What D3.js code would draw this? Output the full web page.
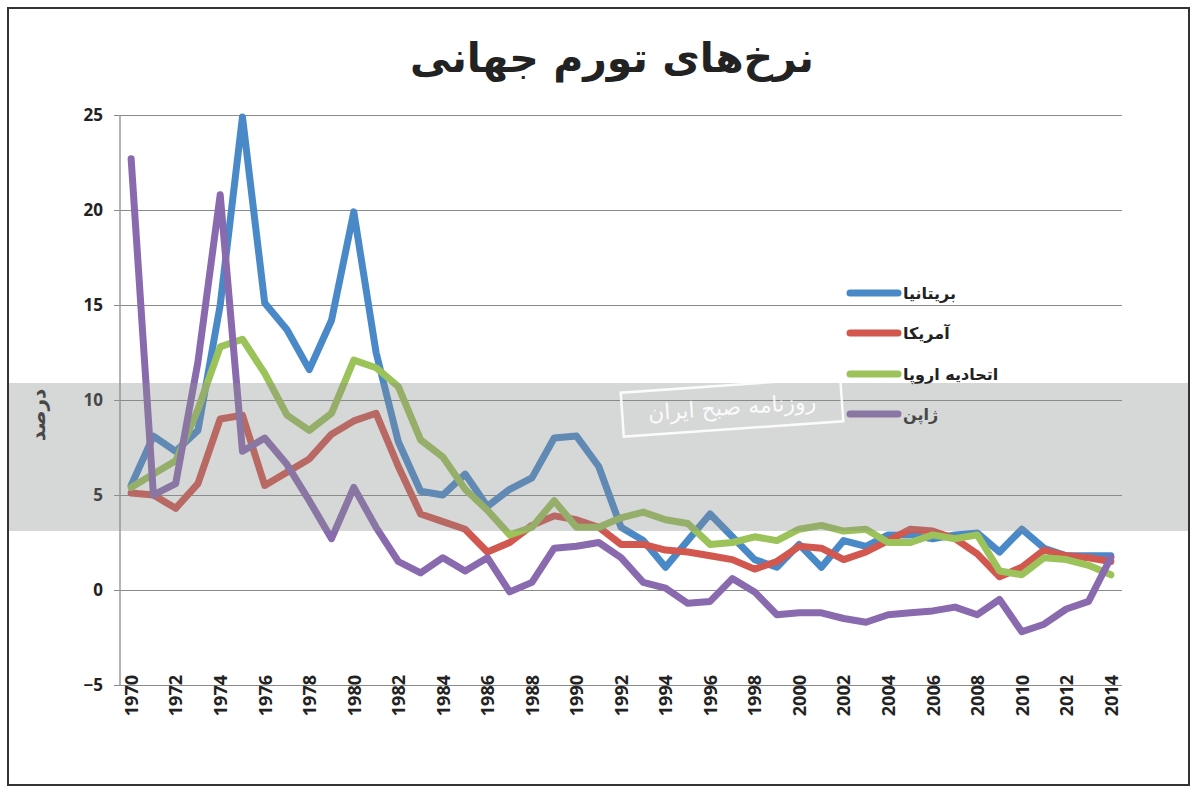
<!DOCTYPE html>
<html><head><meta charset="utf-8">
<script src="https://cdn.jsdelivr.net/npm/d3@7"></script>
<style>
html,body{margin:0;padding:0;background:#fff;}
svg{display:block;}
</style></head>
<body>
<svg id="chart" width="1197" height="794"></svg>
<script>
const years = [1970,1971,1972,1973,1974,1975,1976,1977,1978,1979,
 1980,1981,1982,1983,1984,1985,1986,1987,1988,1989,
 1990,1991,1992,1993,1994,1995,1996,1997,1998,1999,
 2000,2001,2002,2003,2004,2005,2006,2007,2008,2009,
 2010,2011,2012,2013,2014];
const uk = [5.5,8.1,7.3,8.4,15.0,24.9,15.1,13.7,11.6,14.2,
 19.9,12.5,7.8,5.2,5.0,6.1,4.4,5.3,5.9,8.0,
 8.1,6.5,3.3,2.6,1.2,2.6,4.0,2.8,1.6,1.2,
 2.4,1.2,2.6,2.3,2.9,2.9,2.7,2.9,3.0,2.0,
 3.2,2.2,1.8,1.8,1.8];
const us = [5.1,5.0,4.3,5.6,9.0,9.2,5.5,6.2,6.9,8.2,
 8.9,9.3,6.5,4.0,3.6,3.2,2.0,2.5,3.4,3.9,
 3.7,3.3,2.4,2.4,2.1,2.0,1.8,1.6,1.1,1.5,
 2.3,2.2,1.6,2.0,2.6,3.2,3.1,2.7,1.9,0.7,
 1.2,2.1,1.8,1.7,1.5];
const eu = [5.4,6.1,6.8,9.5,12.8,13.2,11.4,9.2,8.4,9.3,
 12.1,11.7,10.7,7.9,7.0,5.3,4.2,2.9,3.3,4.7,
 3.3,3.3,3.8,4.1,3.7,3.5,2.4,2.5,2.8,2.6,
 3.2,3.4,3.1,3.2,2.5,2.5,2.9,2.7,2.9,1.0,
 0.8,1.7,1.6,1.3,0.8];
const jp = [22.7,5.0,5.6,12.0,20.8,7.3,8.0,6.6,4.7,2.7,
 5.4,3.3,1.5,0.9,1.7,1.0,1.7,-0.1,0.4,2.2,
 2.3,2.5,1.7,0.4,0.1,-0.7,-0.6,0.6,-0.1,-1.3,
 -1.2,-1.2,-1.5,-1.7,-1.3,-1.2,-1.1,-0.9,-1.3,-0.5,
 -2.2,-1.8,-1.0,-0.6,1.7];
const seriesNames = ["بریتانیا","آمریکا","اتحادیه اروپا","ژاپن"];
const seriesColors = ["#4a89c8","#d2574f","#9cc25a","#8a6aaf"];
const seriesValues = [uk, us, eu, jp];
const yTicks = [-5,0,5,10,15,20,25];
const xTickYears = [1970,1972,1974,1976,1978,1980,1982,1984,1986,1988,1990,1992,1994,1996,1998,2000,2002,2004,2006,2008,2010,2012,2014];
const titleText = "نرخ‌های تورم جهانی";
const yAxisTitle = "درصد";
const watermarkText = "روزنامه صبح ایران";

const svg = d3.select("#chart");
const x = d3.scaleBand().domain(years).range([120,1122]);
const xc = d => x(d) + x.bandwidth()/2;
const y = d3.scaleLinear().domain([-5,25]).range([685,115]);

// frame
svg.append("rect").attr("x",8).attr("y",8).attr("width",1181).attr("height",777)
  .attr("fill","#fff").attr("stroke","#333").attr("stroke-width",2);

// title
svg.append("text").attr("x",612).attr("y",72).attr("text-anchor","middle")
  .attr("font-family","DejaVu Sans").attr("font-weight","bold").attr("font-size",41)
  .attr("fill","#222").text(titleText);

// gridlines via axis
const yAxis = d3.axisLeft(y).tickValues(yTicks).tickSize(-(1122-114)).tickPadding(12).tickFormat(d3.format("d"));
const gy = svg.append("g").attr("transform","translate(114,0)").call(yAxis);
gy.select(".domain").remove();
gy.selectAll(".tick line").attr("stroke","#8a8a8a").attr("stroke-width",1.2);
gy.selectAll(".tick text").attr("font-family","Open Sans").attr("font-weight","bold")
  .attr("font-size",17).attr("fill","#222").attr("x",-11);

// y axis line
svg.append("line").attr("x1",120).attr("x2",120).attr("y1",y(25)).attr("y2",y(-5))
  .attr("stroke","#9a9a9a").attr("stroke-width",1.5);

// x axis labels
const xAxis = d3.axisBottom(d3.scalePoint().domain(years).range([xc(1970), xc(2014)]))
  .tickValues(xTickYears).tickSize(0).tickPadding(0);
const gx = svg.append("g").attr("transform",`translate(0,${y(-5)})`).call(xAxis);
gx.select(".domain").remove();
gx.selectAll(".tick text").attr("font-family","Open Sans").attr("font-weight","bold")
  .attr("font-size",18).attr("fill","#222")
  .attr("transform","rotate(-90)").attr("text-anchor","end")
  .attr("x",10).attr("y",0).attr("dy","0.35em");

// y axis title
svg.append("text").attr("transform","translate(45,415) rotate(-90)").attr("text-anchor","middle")
  .attr("font-family","DejaVu Sans").attr("font-weight","bold").attr("font-size",20)
  .attr("fill","#222").text(yAxisTitle);

// lines
const line = d3.line().x((d,i)=>xc(years[i])).y(d=>y(d));
seriesValues.forEach((vals,k)=>{
  svg.append("path").datum(vals).attr("d",line).attr("fill","none")
    .attr("stroke",seriesColors[k]).attr("stroke-width",7)
    .attr("stroke-linejoin","round").attr("stroke-linecap","round");
});

// legend
const legY = [293,333,374,414];
seriesNames.forEach((n,k)=>{
  svg.append("line").attr("x1",850).attr("x2",898).attr("y1",legY[k]).attr("y2",legY[k])
    .attr("stroke",seriesColors[k]).attr("stroke-width",7).attr("stroke-linecap","round");
  svg.append("text").attr("x",903).attr("y",legY[k]).attr("dy","0.35em")
    .attr("font-family","DejaVu Sans").attr("font-weight","bold").attr("font-size",16)
    .attr("fill","#222").attr("text-anchor","start").text(n);
});

// watermark band overlay
svg.append("rect").attr("x",9).attr("y",383).attr("width",1179).attr("height",148)
  .attr("fill","#8a8b8d").attr("opacity",0.35);
const wm = svg.append("g").attr("transform","translate(732,407) rotate(-4)");
wm.append("rect").attr("x",-110).attr("y",-22).attr("width",220).attr("height",44)
  .attr("fill","none").attr("stroke","#fff").attr("stroke-width",2.5).attr("opacity",0.9);
wm.append("text").attr("text-anchor","middle").attr("dy","0.35em")
  .attr("font-family","DejaVu Sans").attr("font-size",22).attr("fill","#fff").attr("opacity",0.9)
  .text(watermarkText);
</script>
</body></html>
